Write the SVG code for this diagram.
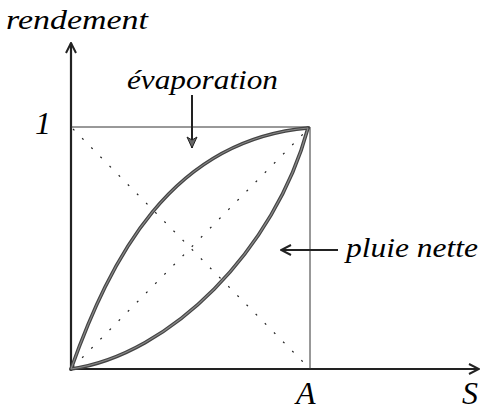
<svg xmlns="http://www.w3.org/2000/svg" width="481" height="413" viewBox="0 0 481 413">
<style>
text{font-family:"Liberation Serif","Times New Roman",serif;font-style:italic;fill:#000}
.ax{stroke:#222;stroke-width:2.2;fill:none}
.box{stroke:#333;stroke-width:1;fill:none}
.dot{stroke:#222;stroke-width:1.2;stroke-dasharray:2 11;fill:none}
.crv{stroke:#444;stroke-width:3.6;fill:none;stroke-linecap:round}
.crvin{stroke:#888;stroke-width:1.2;fill:none}
</style>
<defs>
<marker id="ah" viewBox="0 0 12 12" refX="11" refY="6" markerWidth="12" markerHeight="12" markerUnits="userSpaceOnUse" orient="auto">
<path d="M1,1 L11,6 L1,11" fill="none" stroke="#222" stroke-width="2"/>
</marker>
<marker id="fh" viewBox="0 0 12 12" refX="11" refY="6" markerWidth="14" markerHeight="12" markerUnits="userSpaceOnUse" orient="auto">
<path d="M0,1 L11,6 L0,11 L3,6 Z" fill="#666" stroke="#222" stroke-width="1"/>
</marker>
</defs>
<g id="connectors">
<line class="ax" x1="71" y1="371" x2="71" y2="43" marker-end="url(#ah)"/>
<line class="ax" x1="70" y1="369" x2="479" y2="369" marker-end="url(#ah)"/>
<path class="box" d="M71,127 H310 V369"/>
<line class="dot" x1="73" y1="129" x2="308" y2="367"/>
<line class="dot" x1="73" y1="367" x2="308" y2="129"/>
<path class="crv" d="M71,369 C110,260 170,140 308,128"/>
<path class="crv" d="M71,369 C170,355 275,250 308,128"/>
<path class="crvin" d="M71,369 C110,260 170,140 308,128"/>
<path class="crvin" d="M71,369 C170,355 275,250 308,128"/>
<line x1="192" y1="95" x2="192" y2="148" stroke="#222" stroke-width="2" marker-end="url(#fh)"/>
<line x1="338" y1="250" x2="281" y2="250" stroke="#222" stroke-width="2" marker-end="url(#ah)"/>
</g>
<g id="label-rendement"><text x="6" y="29" font-size="28" textLength="142" lengthAdjust="spacingAndGlyphs">rendement</text></g>
<g id="label-1"><text x="35" y="134" font-size="32">1</text></g>
<g id="label-evaporation"><text x="127" y="89" font-size="28" textLength="151" lengthAdjust="spacingAndGlyphs">évaporation</text></g>
<g id="label-pluie"><text x="346" y="257" font-size="28" textLength="132" lengthAdjust="spacingAndGlyphs">pluie nette</text></g>
<g id="label-A"><text x="296" y="404" font-size="32">A</text></g>
<g id="label-S"><text x="462" y="404" font-size="32">S</text></g>
</svg>
